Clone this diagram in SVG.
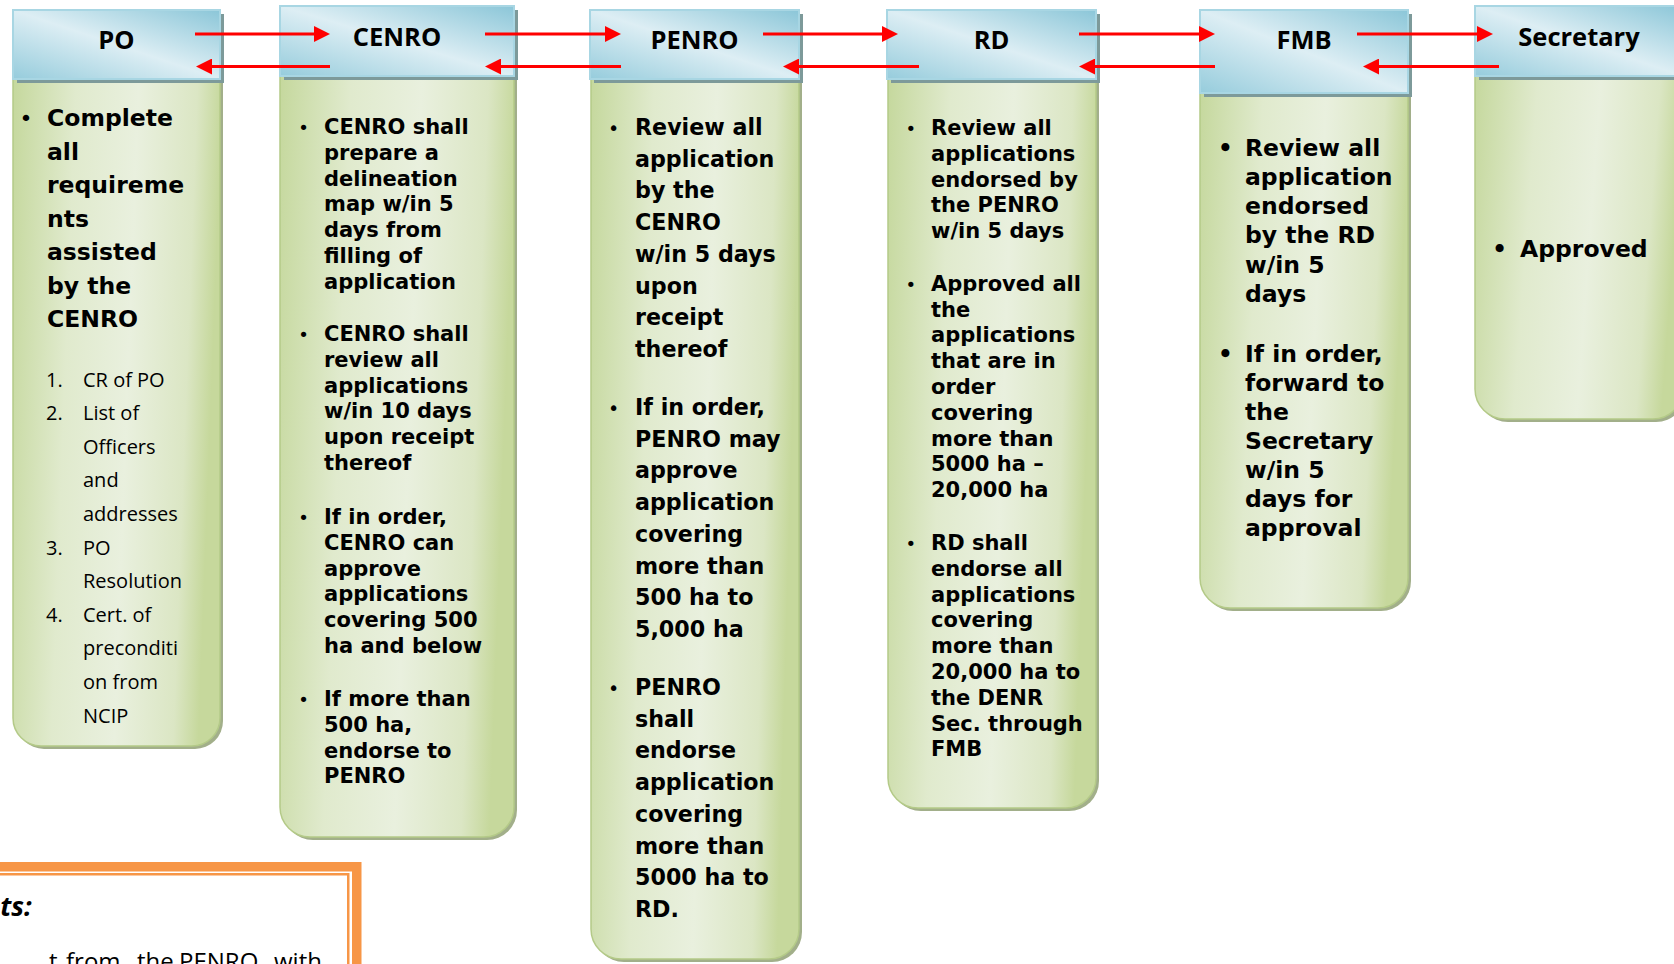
<svg xmlns="http://www.w3.org/2000/svg" width="1674" height="964" viewBox="0 0 1674 964">
<defs>
<linearGradient id="hdr" x1="1" y1="0" x2="0" y2="1">
<stop offset="0" stop-color="#8bc6d8"/>
<stop offset="0.5" stop-color="#ddeef4"/>
<stop offset="1" stop-color="#96ccdc"/>
</linearGradient>
<linearGradient id="bod" x1="0" y1="0" x2="1" y2="0.12">
<stop offset="0" stop-color="#c5d89d"/>
<stop offset="0.3" stop-color="#e0eacd"/>
<stop offset="0.6" stop-color="#e9f0de"/>
<stop offset="0.88" stop-color="#dbe6c4"/>
<stop offset="1" stop-color="#c6d89c"/>
</linearGradient>
<marker id="ah" markerUnits="userSpaceOnUse" markerWidth="16" markerHeight="16" refX="6" refY="8" orient="auto">
<path d="M0,0 L16,8 L0,16 Z" fill="#ff0000"/>
</marker>
<style>
.hd{fill:url(#hdr);stroke:#a8d6e3;stroke-width:2}
.hs{fill:#7d9a9a}
.bd{fill:url(#bod);stroke:#b4ca88;stroke-width:1.5}
.bs{fill:#a2af8a}
.ht{font-family:"Open Sans","Noto Sans",sans-serif;font-weight:700;font-size:25.5px;text-anchor:middle;fill:#000}
.v{font-family:"DejaVu Sans",Verdana,sans-serif;font-weight:700;fill:#000}
.bl{font-family:"DejaVu Sans",sans-serif;text-anchor:middle;fill:#000}
.cal{font-family:"Open Sans","Noto Sans",sans-serif;font-size:20px;fill:#000}
.arr{stroke:#ff0000;stroke-width:3;fill:none;marker-end:url(#ah)}
.ob{fill:#ffffff;stroke:#f79646}
</style>
</defs>
<rect width="1674" height="964" fill="#ffffff"/>

<g id="node-po">
<path class="bs" transform="translate(3,3)" d="M13,78 H220 V718 A28,28 0 0 1 192,746 H41 A28,28 0 0 1 13,718 Z"/>
<path class="bd" d="M13,78 H220 V718 A28,28 0 0 1 192,746 H41 A28,28 0 0 1 13,718 Z"/>
<rect class="hs" x="17" y="14" width="207" height="69"/>
<rect class="hd" x="13" y="10" width="207" height="69"/>
<text class="ht" x="116.5" y="49">PO</text>
<text class="bl" x="26" y="126" font-size="22">•</text>
<text class="v" font-size="23.5"><tspan x="47" y="126">Complete</tspan><tspan x="47" dy="33.5">all</tspan><tspan x="47" dy="33.5">requireme</tspan><tspan x="47" dy="33.5">nts</tspan><tspan x="47" dy="33.5">assisted</tspan><tspan x="47" dy="33.5">by the</tspan><tspan x="47" dy="33.5">CENRO</tspan></text>
<text class="cal"><tspan x="46" y="386.5">1.</tspan><tspan x="46" y="420.1">2.</tspan><tspan x="46" y="554.5">3.</tspan><tspan x="46" y="621.7">4.</tspan></text>
<text class="cal"><tspan x="83" y="386.5">CR of PO</tspan><tspan x="83" y="420.1">List of</tspan><tspan x="83" y="453.7">Officers</tspan><tspan x="83" y="487.3">and</tspan><tspan x="83" y="520.9">addresses</tspan><tspan x="83" y="554.5">PO</tspan><tspan x="83" y="588.1">Resolution</tspan><tspan x="83" y="621.7">Cert. of</tspan><tspan x="83" y="655.3">preconditi</tspan><tspan x="83" y="688.9">on from</tspan><tspan x="83" y="722.5">NCIP</tspan></text>
</g>

<g id="node-cenro">
<path class="bs" transform="translate(3,3)" d="M280,74 H514 V807 A30,30 0 0 1 484,837 H310 A30,30 0 0 1 280,807 Z"/>
<path class="bd" d="M280,74 H514 V807 A30,30 0 0 1 484,837 H310 A30,30 0 0 1 280,807 Z"/>
<rect class="hs" x="284" y="10" width="234" height="70"/>
<rect class="hd" x="280" y="6" width="234" height="70"/>
<text class="ht" x="397" y="45.7">CENRO</text>
<text class="bl" font-size="18"><tspan x="303.5" y="134">•</tspan><tspan x="303.5" y="341">•</tspan><tspan x="303.5" y="524">•</tspan><tspan x="303.5" y="706">•</tspan></text>
<text class="v" font-size="21"><tspan x="324" y="134">CENRO shall</tspan><tspan x="324" dy="25.8">prepare a</tspan><tspan x="324" dy="25.8">delineation</tspan><tspan x="324" dy="25.8">map w/in 5</tspan><tspan x="324" dy="25.8">days from</tspan><tspan x="324" dy="25.8">filling of</tspan><tspan x="324" dy="25.8">application</tspan><tspan x="324" y="341">CENRO shall</tspan><tspan x="324" dy="25.8">review all</tspan><tspan x="324" dy="25.8">applications</tspan><tspan x="324" dy="25.8">w/in 10 days</tspan><tspan x="324" dy="25.8">upon receipt</tspan><tspan x="324" dy="25.8">thereof</tspan><tspan x="324" y="524">If in order,</tspan><tspan x="324" dy="25.8">CENRO can</tspan><tspan x="324" dy="25.8">approve</tspan><tspan x="324" dy="25.8">applications</tspan><tspan x="324" dy="25.8">covering 500</tspan><tspan x="324" dy="25.8">ha and below</tspan><tspan x="324" y="706">If more than</tspan><tspan x="324" dy="25.8">500 ha,</tspan><tspan x="324" dy="25.8">endorse to</tspan><tspan x="324" dy="25.8">PENRO</tspan></text>
</g>

<g id="node-penro">
<path class="bs" transform="translate(3,3)" d="M591,78 H799 V929 A30,30 0 0 1 769,959 H621 A30,30 0 0 1 591,929 Z"/>
<path class="bd" d="M591,78 H799 V929 A30,30 0 0 1 769,959 H621 A30,30 0 0 1 591,929 Z"/>
<rect class="hs" x="594" y="14" width="209" height="69"/>
<rect class="hd" x="590" y="10" width="209" height="69"/>
<text class="ht" x="694.5" y="49">PENRO</text>
<text class="bl" font-size="19"><tspan x="613.6" y="135">•</tspan><tspan x="613.6" y="415">•</tspan><tspan x="613.6" y="695">•</tspan></text>
<text class="v" font-size="22.2"><tspan x="635" y="135">Review all</tspan><tspan x="635" dy="31.7">application</tspan><tspan x="635" dy="31.7">by the</tspan><tspan x="635" dy="31.7">CENRO</tspan><tspan x="635" dy="31.7">w/in 5 days</tspan><tspan x="635" dy="31.7">upon</tspan><tspan x="635" dy="31.7">receipt</tspan><tspan x="635" dy="31.7">thereof</tspan><tspan x="635" y="415">If in order,</tspan><tspan x="635" dy="31.7">PENRO may</tspan><tspan x="635" dy="31.7">approve</tspan><tspan x="635" dy="31.7">application</tspan><tspan x="635" dy="31.7">covering</tspan><tspan x="635" dy="31.7">more than</tspan><tspan x="635" dy="31.7">500 ha to</tspan><tspan x="635" dy="31.7">5,000 ha</tspan><tspan x="635" y="695">PENRO</tspan><tspan x="635" dy="31.7">shall</tspan><tspan x="635" dy="31.7">endorse</tspan><tspan x="635" dy="31.7">application</tspan><tspan x="635" dy="31.7">covering</tspan><tspan x="635" dy="31.7">more than</tspan><tspan x="635" dy="31.7">5000 ha to</tspan><tspan x="635" dy="31.7">RD.</tspan></text>
</g>

<g id="node-rd">
<path class="bs" transform="translate(3,3)" d="M888,78 H1096 V778 A30,30 0 0 1 1066,808 H918 A30,30 0 0 1 888,778 Z"/>
<path class="bd" d="M888,78 H1096 V778 A30,30 0 0 1 1066,808 H918 A30,30 0 0 1 888,778 Z"/>
<rect class="hs" x="891" y="14" width="209" height="69"/>
<rect class="hd" x="887" y="10" width="209" height="69"/>
<text class="ht" x="991.5" y="49">RD</text>
<text class="bl" font-size="18"><tspan x="910.7" y="135">•</tspan><tspan x="910.7" y="290.7">•</tspan><tspan x="910.7" y="550">•</tspan></text>
<text class="v" font-size="21"><tspan x="931" y="135">Review all</tspan><tspan x="931" dy="25.8">applications</tspan><tspan x="931" dy="25.8">endorsed by</tspan><tspan x="931" dy="25.8">the PENRO</tspan><tspan x="931" dy="25.8">w/in 5 days</tspan><tspan x="931" y="290.7">Approved all</tspan><tspan x="931" dy="25.8">the</tspan><tspan x="931" dy="25.8">applications</tspan><tspan x="931" dy="25.8">that are in</tspan><tspan x="931" dy="25.8">order</tspan><tspan x="931" dy="25.8">covering</tspan><tspan x="931" dy="25.8">more than</tspan><tspan x="931" dy="25.8">5000 ha –</tspan><tspan x="931" dy="25.8">20,000 ha</tspan><tspan x="931" y="550">RD shall</tspan><tspan x="931" dy="25.8">endorse all</tspan><tspan x="931" dy="25.8">applications</tspan><tspan x="931" dy="25.8">covering</tspan><tspan x="931" dy="25.8">more than</tspan><tspan x="931" dy="25.8">20,000 ha to</tspan><tspan x="931" dy="25.8">the DENR</tspan><tspan x="931" dy="25.8">Sec. through</tspan><tspan x="931" dy="25.8">FMB</tspan></text>
</g>

<g id="node-fmb">
<path class="bs" transform="translate(3,3)" d="M1200,92 H1408 V578 A30,30 0 0 1 1378,608 H1230 A30,30 0 0 1 1200,578 Z"/>
<path class="bd" d="M1200,92 H1408 V578 A30,30 0 0 1 1378,608 H1230 A30,30 0 0 1 1200,578 Z"/>
<rect class="hs" x="1204" y="14" width="208" height="83"/>
<rect class="hd" x="1200" y="10" width="208" height="83"/>
<text class="ht" x="1304" y="49">FMB</text>
<text class="bl" font-size="23" font-weight="700"><tspan x="1225.4" y="155.7">•</tspan><tspan x="1225.4" y="361.7">•</tspan></text>
<text class="v" font-size="23.5"><tspan x="1245" y="155.7">Review all</tspan><tspan x="1245" dy="29.2">application</tspan><tspan x="1245" dy="29.2">endorsed</tspan><tspan x="1245" dy="29.2">by the RD</tspan><tspan x="1245" dy="29.2">w/in 5</tspan><tspan x="1245" dy="29.2">days</tspan><tspan x="1245" y="361.7">If in order,</tspan><tspan x="1245" dy="29">forward to</tspan><tspan x="1245" dy="29">the</tspan><tspan x="1245" dy="29">Secretary</tspan><tspan x="1245" dy="29">w/in 5</tspan><tspan x="1245" dy="29">days for</tspan><tspan x="1245" dy="29">approval</tspan></text>
</g>

<g id="node-secretary">
<path class="bs" transform="translate(3,3)" d="M1475,74 H1683 V389 A30,30 0 0 1 1653,419 H1505 A30,30 0 0 1 1475,389 Z"/>
<path class="bd" d="M1475,74 H1683 V389 A30,30 0 0 1 1653,419 H1505 A30,30 0 0 1 1475,389 Z"/>
<rect class="hs" x="1479" y="10" width="208" height="70"/>
<rect class="hd" x="1475" y="6" width="208" height="70"/>
<text class="ht" x="1579" y="45.7">Secretary</text>
<text class="bl" x="1499.7" y="256.7" font-size="23" font-weight="700">•</text>
<text class="v" x="1520" y="256.7" font-size="23.5">Approved</text>
</g>

<g id="note-box">
<rect class="ob" x="-30" y="866.75" width="386.75" height="140" stroke-width="9.5"/>
<rect class="ob" x="-30" y="874.25" width="378.25" height="130" stroke-width="2.5"/>
<text x="31.7" y="915.7" text-anchor="end" font-family="'Open Sans','Noto Sans',sans-serif" font-size="27" font-weight="700" font-style="italic" fill="#000">ts:</text>
<text font-family="'Open Sans','Noto Sans',sans-serif" font-size="24" fill="#000"><tspan x="49" y="970">t</tspan><tspan x="66" y="970">from</tspan><tspan x="137" y="970">the</tspan><tspan x="179" y="970">PENRO</tspan><tspan x="274" y="970">with</tspan></text>
</g>

<g id="connectors">
<line class="arr" x1="195" y1="34" x2="320" y2="34"/>
<line class="arr" x1="330" y1="66.5" x2="206" y2="66.5"/>
<line class="arr" x1="485" y1="34" x2="611" y2="34"/>
<line class="arr" x1="621" y1="66.5" x2="495" y2="66.5"/>
<line class="arr" x1="763" y1="34" x2="888" y2="34"/>
<line class="arr" x1="919" y1="66.5" x2="793" y2="66.5"/>
<line class="arr" x1="1079" y1="34" x2="1205" y2="34"/>
<line class="arr" x1="1215" y1="66.5" x2="1089" y2="66.5"/>
<line class="arr" x1="1357" y1="34" x2="1483" y2="34"/>
<line class="arr" x1="1499" y1="66.5" x2="1373" y2="66.5"/>
</g>
</svg>
